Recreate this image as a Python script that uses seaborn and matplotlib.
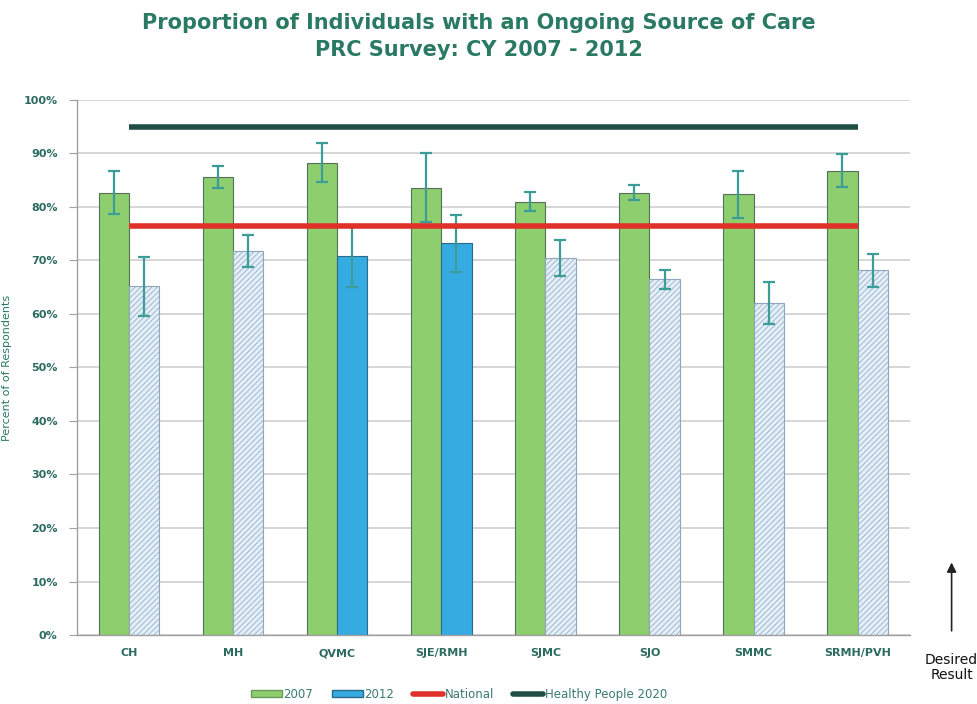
import numpy as np
import pandas as pd
import matplotlib
matplotlib.use("Agg")
import matplotlib.pyplot as plt
import seaborn as sns
from matplotlib.patches import Patch, FancyArrowPatch
from matplotlib.lines import Line2D

# ---------------------------------
# Data
# ---------------------------------

sites = ["CH", "MH", "QVMC", "SJE/RMH", "SJMC", "SJO", "SMMC", "SRMH/PVH"]

pct_2007 = [82.7, 85.6, 88.3, 83.6, 81.0, 82.7, 82.4, 86.8]
err_2007 = [4.0, 2.1, 3.7, 6.4, 1.8, 1.4, 4.4, 3.1]

pct_2012 = [65.2, 71.7, 70.9, 73.2, 70.5, 66.5, 62.1, 68.2]
err_2012 = [5.5, 3.0, 5.8, 5.3, 3.4, 1.8, 3.9, 3.1]

# 2012 bars drawn solid (others are hatched)
solid_2012 = [False, False, True, True, False, False, False, False]

national = 76.5
healthy_people_2020 = 95.0

# ---------------------------------
# Colours
# ---------------------------------

green = "#8FCE6E"
blue_solid = "#35ABE2"
blue_hatched = "#E2EEF8"
err_color = "#3C9C98"
red = "#E0302A"
dark_green = "#1F4F44"
text_color = "#2A7A62"
tick_color = "#2C6B60"

# ---------------------------------
# Build long table
# ---------------------------------

df = pd.DataFrame({
    "site": sites * 2,
    "year": ["2007"] * len(sites) + ["2012"] * len(sites),
    "pct": pct_2007 + pct_2012,
})

sns.set_style("white")
plt.rcParams["hatch.linewidth"] = 0.5

fig = plt.figure(figsize=(9.77, 7.04), dpi=100)
ax = fig.add_axes([0.079, 0.098, 0.852, 0.760])

sns.barplot(
    data=df,
    x="site",
    y="pct",
    hue="year",
    palette=[green, blue_solid],
    saturation=1,
    width=0.58,
    gap=0,
    edgecolor="#55705A",
    linewidth=0.8,
    errorbar=None,
    legend=False,
    ax=ax,
)

# ---------------------------------
# Styling of 2012 bars + error bars
# ---------------------------------

for bar, solid in zip(ax.containers[1], solid_2012):
    if solid:
        bar.set_facecolor(blue_solid)
        bar.set_edgecolor("#2A6A8A")
    else:
        bar.set_facecolor(blue_hatched)
        bar.set_hatch("//////")
        bar.set_edgecolor("#8EA6BC")

for cont, vals, errs in [
    (ax.containers[0], pct_2007, err_2007),
    (ax.containers[1], pct_2012, err_2012),
]:
    xs = [b.get_x() + b.get_width() / 2 for b in cont]
    ax.errorbar(
        xs, vals, yerr=errs,
        fmt="none",
        ecolor=err_color,
        elinewidth=1.6,
        capsize=4,
        capthick=1.6,
        zorder=5,
    )

# ---------------------------------
# Reference lines
# ---------------------------------

ax.hlines(national, 0, len(sites) - 1, color=red, linewidth=4, zorder=6)
ax.hlines(healthy_people_2020, 0, len(sites) - 1, color=dark_green, linewidth=4, zorder=6)

# ---------------------------------
# Axes formatting
# ---------------------------------

ax.set_ylim(0, 100)
ax.set_xlim(-0.5, len(sites) - 0.5)
ax.set_yticks(np.arange(0, 101, 10))
ax.set_yticklabels([f"{v}%" for v in range(0, 101, 10)])
ax.yaxis.grid(True, color="#D0D0D0", linewidth=1.2)
ax.set_axisbelow(True)

for side in ["top", "right"]:
    ax.spines[side].set_visible(False)
for side in ["left", "bottom"]:
    ax.spines[side].set_color("#A0A0A0")
    ax.spines[side].set_linewidth(1.0)

ax.tick_params(axis="y", left=True, length=6, color="#A0A0A0",
               labelsize=8, labelcolor=tick_color, pad=8)
ax.tick_params(axis="x", bottom=False, labelsize=8, labelcolor=tick_color, pad=6)
for lbl in ax.get_xticklabels() + ax.get_yticklabels():
    lbl.set_fontweight("bold")

ax.set_xlabel("")
ax.set_ylabel("Percent of of Respondents", fontsize=8, color=text_color)
ax.yaxis.set_label_coords(-0.078, 0.5)

# ---------------------------------
# Title
# ---------------------------------

fig.text(
    0.49, 0.982,
    "Proportion of Individuals with an Ongoing Source of Care\nPRC Survey: CY 2007 - 2012",
    ha="center", va="top",
    fontsize=15, fontweight="bold", color=text_color,
    linespacing=1.45,
)

# ---------------------------------
# Legend
# ---------------------------------

handles = [
    Patch(facecolor=green, edgecolor="#6A9A5A"),
    Patch(facecolor=blue_solid, edgecolor="#2A6A8A"),
    Line2D([0], [0], color=red, linewidth=4),
    Line2D([0], [0], color=dark_green, linewidth=4),
]
fig.legend(
    handles, ["2007", "2012", "National", "Healthy People 2020"],
    loc="center", bbox_to_anchor=(0.47, 0.014),
    ncol=4, frameon=False, fontsize=8.5,
    handlelength=2.6, handleheight=0.5, handletextpad=0.1,
    columnspacing=1.6,
    labelcolor="#3A7A70",
)

# ---------------------------------
# Desired Result arrow
# ---------------------------------

fig.patches.append(FancyArrowPatch(
    (0.974, 0.10), (0.974, 0.205),
    transform=fig.transFigure,
    arrowstyle="-|>", mutation_scale=14,
    color="#222222", linewidth=1.2,
))
fig.text(0.974, 0.052, "Desired\nResult", ha="center", va="center",
         fontsize=10, color="#111111", linespacing=1.1)

fig.savefig("out.png", dpi=100)
